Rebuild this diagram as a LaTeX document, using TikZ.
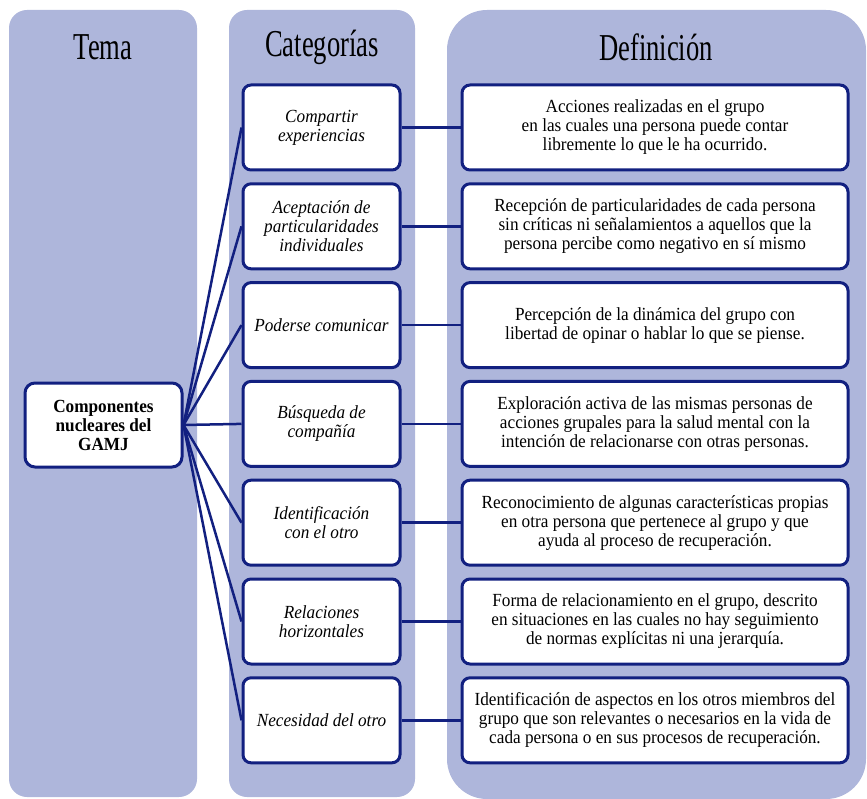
\documentclass[tikz,border=0pt]{standalone}
\usepackage{fontspec}
\setmainfont{Liberation Serif}[FakeStretch=0.93]
\newfontfamily\headfont{Liberation Serif}[FakeStretch=0.7]
\usetikzlibrary{positioning}
\definecolor{colband}{RGB}{174,182,219}
\definecolor{colline}{RGB}{18,32,128}

\begin{document}
\begin{tikzpicture}[x=1pt,y=-1pt,semithick,node distance=98.8pt]
			\tikzstyle{every node}=[font=\fontsize{18.5}{19}\selectfont,text=black]
			\tikzstyle{head}=[font=\headfont\fontsize{38}{40}\selectfont]
			\tikzstyle{box}=[draw=colline,line width=3pt,fill=white,rounded corners=8pt,minimum height=85pt,align=center,inner sep=2pt]
			\tikzstyle{catbox}=[box,minimum width=157pt,font=\fontsize{18.5}{19}\selectfont\itshape]
			\tikzstyle{defbox}=[box,minimum width=386pt]
			\tikzstyle{temabox}=[box,minimum width=157pt,minimum height=84pt,rounded corners=10pt,font=\fontsize{18.5}{19}\selectfont\bfseries]
			\tikzstyle{conn}=[draw=colline,line width=2.5pt]
			\useasboundingbox (0,0) rectangle (867,799);
			% columnas
			\fill[colband,rounded corners=18pt] (9,10) rectangle (197,797);
			\fill[colband,rounded corners=18pt] (229,10) rectangle (415,797);
			\fill[colband,rounded corners=40pt] (447,10) rectangle (866,799);
			\node[head] (hTema) at (103,47) {Tema};
			\node[head] (hCat)  at (322,47) {Categorías};
			\node[head] (hDef)  at (656,47) {Definición};
			% categorias
			\node[catbox] (c1) at (321.5,127.5) {Compartir\\experiencias};
			\node[catbox] (c2)[below of=c1] {Aceptación de\\particularidades\\individuales};
			\node[catbox] (c3)[below of=c2] {Poderse comunicar};
			\node[catbox] (c4)[below of=c3] {Búsqueda de\\compañía};
			\node[catbox] (c5)[below of=c4] {Identificación\\con el otro};
			\node[catbox] (c6)[below of=c5] {Relaciones\\horizontales};
			\node[catbox] (c7)[below of=c6] {Necesidad del otro};
			% definiciones
			\node[defbox] (d1)[node distance=333.5pt,right of=c1] {Acciones realizadas en el grupo\\en las cuales una persona puede contar\\libremente lo que le ha ocurrido.};
			\node[defbox] (d2)[node distance=333.5pt,right of=c2] {Recepción de particularidades de cada persona\\sin críticas ni señalamientos a aquellos que la\\persona percibe como negativo en sí mismo};
			\node[defbox] (d3)[node distance=333.5pt,right of=c3] {Percepción de la dinámica del grupo con\\libertad de opinar o hablar lo que se piense.};
			\node[defbox] (d4)[node distance=333.5pt,right of=c4] {Exploración activa de las mismas personas de\\acciones grupales para la salud mental con la\\intención de relacionarse con otras personas.};
			\node[defbox] (d5)[node distance=333.5pt,right of=c5] {Reconocimiento de algunas características propias\\en otra persona que pertenece al grupo y que\\ayuda al proceso de recuperación.};
			\node[defbox] (d6)[node distance=333.5pt,right of=c6] {Forma de relacionamiento en el grupo, descrito\\en situaciones en las cuales no hay seguimiento\\de normas explícitas ni una jerarquía.};
			\node[defbox] (d7)[node distance=333.5pt,right of=c7] {Identificación de aspectos en los otros miembros del\\grupo que son relevantes o necesarios en la vida de\\cada persona o en sus procesos de recuperación.};
			% tema
			\node[temabox] (T) at (103.5,425) {Componentes\\nucleares del\\GAMJ};
			\path[conn]
			(T.east) edge (c1.west)
			(T.east) edge (c2.west)
			(T.east) edge (c3.west)
			(T.east) edge (c4.west)
			(T.east) edge (c5.west)
			(T.east) edge (c6.west)
			(T.east) edge (c7.west)
			(c1) edge (d1)
			(c2) edge (d2)
			(c3) edge (d3)
			(c4) edge (d4)
			(c5) edge (d5)
			(c6) edge (d6)
			(c7) edge (d7);
		\end{tikzpicture}
\end{document}
